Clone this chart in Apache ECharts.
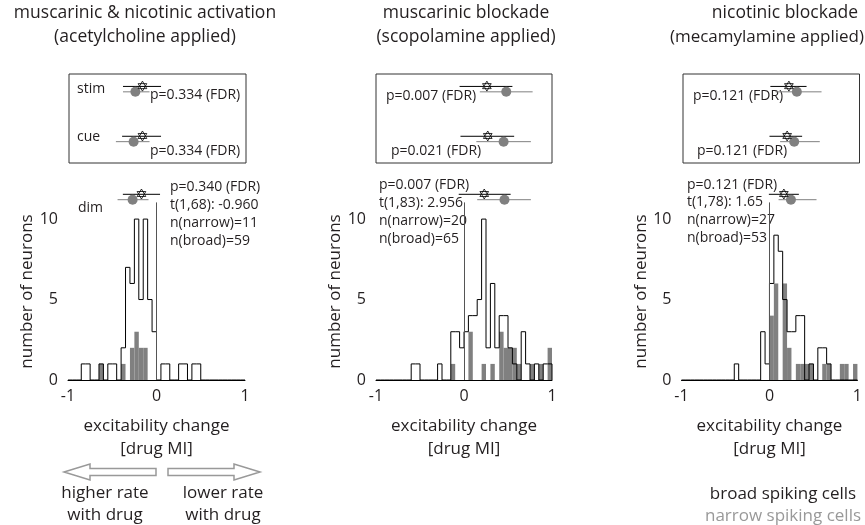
<!DOCTYPE html>
<html>
<head>
<meta charset="utf-8">
<script src="https://cdn.jsdelivr.net/npm/echarts@6/dist/echarts.min.js"></script>
<style>
html, body { margin: 0; padding: 0; background: #fff; }
#chart { width: 865px; height: 525px; }
</style>
</head>
<body>
<div id="chart"></div>
<script>
// bins: 40 bins of width 0.05 from -1 to 1
var binStart = -1, binWidth = 0.05;

// acetylcholine
var broadAch  = [0,0,0,1,1,0,0,1,0,1, 1,0,2,7,6,10,5,10,5,3, 0,1,1,0,0,1,1,0,1,1, 0,0,0,0,0,0,0,0,0,0];
var narrowAch = [0,0,0,0,0,0,0,1,0,0, 0,0,1,0,2,3,2,2,0,0, 0,0,0,0,0,0,0,0,0,0, 0,0,0,0,0,0,0,0,0,0];
// scopolamine
var broadScop  = [0,0,0,0,0,0,0,0,1,1, 0,0,0,0,1,0,0,3,3,2, 3,4,4,5,10,2,6,2,4,4, 2,1,0,3,1,0,1,0,1,1];
var narrowScop = [0,0,0,0,0,0,0,0,0,0, 0,0,0,0,0,0,0,1,0,0, 0,3,0,0,1,0,1,0,3,2, 2,2,1,0,0,1,0,1,0,2];
// mecamylamine
var broadMec  = [0,0,0,0,0,0,0,0,0,0, 0,0,1,0,0,0,0,0,3,1, 6,9,8,5,3,3,4,4,0,1, 0,2,2,1,0,0,0,0,0,0];
var narrowMec = [0,0,0,0,0,0,0,0,0,0, 0,0,0,0,0,0,0,0,0,0, 4,6,0,6,2,0,1,1,1,1, 0,0,1,1,0,0,1,1,0,1];

// [mean, lo, hi] for broad (star) and narrow (dot)
var achStim = { broad: [-0.17, -0.39, 0.04], narrow: [-0.25, -0.39, -0.09] };
var achCue  = { broad: [-0.17, -0.40, 0.04], narrow: [-0.27, -0.47, -0.09] };
var achDim  = { broad: [-0.17, -0.38, 0.04], narrow: [-0.27, -0.44, -0.09] };
var scopStim = { broad: [0.26, -0.05, 0.55], narrow: [0.48, 0.18, 0.78] };
var scopCue  = { broad: [0.27, -0.04, 0.57], narrow: [0.45, 0.14, 0.76] };
var scopDim  = { broad: [0.23, -0.06, 0.53], narrow: [0.46, 0.15, 0.76] };
var mecStim = { broad: [0.20, -0.01, 0.40], narrow: [0.29, 0.05, 0.57] };
var mecCue  = { broad: [0.18, -0.02, 0.35], narrow: [0.26, 0.10, 0.55] };
var mecDim  = { broad: [0.16, -0.01, 0.33], narrow: [0.24, 0.10, 0.53] };

var FONT = 'Open Sans';
var TXT = '#231f20';
var GRAY = '#808080';
var STAR = 'path://M0,-10L8.66,5L-8.66,5ZM0,10L8.66,-5L-8.66,-5Z';

var panels = [
    { left: 68, width: 177, boxLeft: 69, broad: broadAch, narrow: narrowAch, rows: [achStim, achCue], dim: achDim },
    { left: 376, width: 176, boxLeft: 376, broad: broadScop, narrow: narrowScop, rows: [scopStim, scopCue], dim: scopDim },
    { left: 681.5, width: 176.5, boxLeft: 683, broad: broadMec, narrow: narrowMec, rows: [mecStim, mecCue], dim: mecDim }
];
var rowPos = [0.17, 0.73];

var grid = [], xAxis = [], yAxis = [], series = [];

function errRender(params, api) {
    var lo = api.value(0), hi = api.value(1), y = api.value(2), k = api.value(3);
    var a = api.coord([lo, y]), b = api.coord([hi, y]);
    var off = k ? 2.7 : -2.7;
    return {
        type: 'line',
        shape: { x1: a[0], y1: a[1] + off, x2: b[0], y2: b[1] + off },
        style: { stroke: k ? GRAY : '#000', lineWidth: 1 }
    };
}

function addMarkers(gi, items) {
    var bars = [], stars = [], dots = [];
    items.forEach(function (it) {
        bars.push([it.broad[1], it.broad[2], it.y, 0]);
        bars.push([it.narrow[1], it.narrow[2], it.y, 1]);
        stars.push([it.broad[0], it.y]);
        dots.push([it.narrow[0], it.y]);
    });
    series.push({
        type: 'custom', xAxisIndex: gi, yAxisIndex: gi, renderItem: errRender,
        encode: { x: [0, 1], y: 2 }, data: bars, silent: true, z: 2
    });
    series.push({
        type: 'scatter', xAxisIndex: gi, yAxisIndex: gi, data: dots, symbol: 'circle',
        symbolSize: 10, symbolOffset: [0, 2.7], itemStyle: { color: GRAY, opacity: 1 }, silent: true, z: 3
    });
    series.push({
        type: 'scatter', xAxisIndex: gi, yAxisIndex: gi, data: stars, symbol: STAR, symbolKeepAspect: true,
        symbolSize: 10, symbolOffset: [0, -3], itemStyle: { color: '#fff', borderColor: '#000', borderWidth: 0.8, opacity: 1 },
        silent: true, z: 4
    });
}

panels.forEach(function (p, i) {
    var gBox = 3 * i, gDim = 3 * i + 1, gHist = 3 * i + 2;
    grid.push({ left: p.boxLeft, top: 74, width: p.width, height: 89, show: true, borderColor: '#333', borderWidth: 1, backgroundColor: 'transparent' });
    grid.push({ left: p.left, top: 187, width: p.width, height: 20 });
    grid.push({ left: p.left, top: 203, width: p.width, height: 177 });

    [gBox, gDim].forEach(function (g) {
        xAxis.push({ gridIndex: g, type: 'value', min: -1, max: 1, show: false });
        yAxis.push({ gridIndex: g, type: 'value', min: 0, max: 1, inverse: true, show: false });
    });
    xAxis.push({
        gridIndex: gHist, type: 'value', min: -1, max: 1, interval: 1,
        axisLine: { show: true, onZero: false, lineStyle: { color: '#000', width: 1 } },
        axisTick: { show: false }, splitLine: { show: false },
        axisLabel: { fontSize: 16, color: TXT, fontFamily: FONT, margin: 8 },
        name: 'excitability change\n[drug MI]', nameLocation: 'middle', nameGap: 35,
        nameTextStyle: { fontSize: 17, lineHeight: 23, color: TXT, fontFamily: FONT }
    });
    yAxis.push({
        gridIndex: gHist, type: 'value', min: 0, max: 11, interval: 5,
        axisLine: { show: true, lineStyle: { color: '#000', width: 1 } },
        axisTick: { show: false }, splitLine: { show: false },
        axisLabel: { fontSize: 16, color: TXT, fontFamily: FONT, margin: 10,
            formatter: function (v) { return v % 5 === 0 ? String(v) : ''; } },
        name: 'number of neurons', nameLocation: 'middle', nameGap: 31, nameRotate: 90,
        nameTextStyle: { fontSize: 17, color: TXT, fontFamily: FONT }
    });

    addMarkers(gBox, [
        { broad: p.rows[0].broad, narrow: p.rows[0].narrow, y: rowPos[0] },
        { broad: p.rows[1].broad, narrow: p.rows[1].narrow, y: rowPos[1] }
    ]);
    addMarkers(gDim, [{ broad: p.dim.broad, narrow: p.dim.narrow, y: 0.5 }]);

    // narrow spiking cells: filled gray bars
    var rects = [];
    p.narrow.forEach(function (c, k) {
        if (c > 0) rects.push([binStart + k * binWidth, binStart + (k + 1) * binWidth, c]);
    });
    series.push({
        type: 'custom', xAxisIndex: gHist, yAxisIndex: gHist, data: rects, silent: true, z: 2,
        encode: { x: [0, 1], y: 2 },
        renderItem: function (params, api) {
            var a = api.coord([api.value(0), api.value(2)]);
            var b = api.coord([api.value(1), 0]);
            return { type: 'rect', shape: { x: a[0], y: a[1], width: b[0] - a[0], height: b[1] - a[1] },
                style: { fill: GRAY } };
        }
    });

    // broad spiking cells: black stairs outline
    var pts = p.broad.map(function (c, k) { return [binStart + k * binWidth, c]; });
    pts.push([1, p.broad[p.broad.length - 1]]);
    pts.push([1, 0]);
    series.push({
        type: 'line', xAxisIndex: gHist, yAxisIndex: gHist, data: pts, step: 'end',
        showSymbol: false, symbol: 'none', clip: false, silent: true, z: 3,
        lineStyle: { color: '#000', width: 1 },
        markLine: {
            silent: true, symbol: ['none', 'none'], label: { show: false },
            lineStyle: { color: '#555', width: 1, type: 'solid' },
            data: [{ xAxis: 0 }]
        }
    });
});

function txt(x, y, s, opt) {
    opt = opt || {};
    return {
        type: 'text', x: x, y: y, silent: true,
        style: { text: s, fill: opt.color || TXT, fontSize: opt.size || 14, fontFamily: FONT,
            align: opt.align || 'left', verticalAlign: 'middle' }
    };
}

var graphics = [
    txt(145, 13, 'muscarinic & nicotinic activation', { size: 17.5, align: 'center' }),
    txt(145, 37, '(acetylcholine applied)', { size: 17.5, align: 'center' }),
    txt(466, 13, 'muscarinic blockade', { size: 17.5, align: 'center' }),
    txt(466, 37, '(scopolamine applied)', { size: 17.5, align: 'center' }),
    txt(785, 13, 'nicotinic blockade', { size: 17.5, align: 'center' }),
    txt(864, 37, '(mecamylamine applied)', { size: 17, align: 'right' }),

    txt(77, 89, 'stim'), txt(77, 137, 'cue'), txt(78, 208, 'dim'),
    txt(150, 95, 'p=0.334 (FDR)'), txt(150, 151, 'p=0.334 (FDR)'),
    txt(170, 187, 'p=0.340 (FDR)'), txt(170, 205, 't(1,68): -0.960'),
    txt(170, 223, 'n(narrow)=11'), txt(170, 241, 'n(broad)=59'),

    txt(386, 96, 'p=0.007 (FDR)'), txt(391, 151, 'p=0.021 (FDR)'),
    txt(379, 185, 'p=0.007 (FDR)'), txt(379, 203, 't(1,83): 2.956'),
    txt(379, 221, 'n(narrow)=20'), txt(379, 239, 'n(broad)=65'),

    txt(693, 96, 'p=0.121 (FDR)'), txt(697, 151, 'p=0.121 (FDR)'),
    txt(687, 185, 'p=0.121 (FDR)'), txt(687, 202, 't(1,78): 1.65'),
    txt(687, 220, 'n(narrow)=27'), txt(687, 238, 'n(broad)=53'),

    txt(105, 493, 'higher rate', { size: 17, align: 'center' }),
    txt(105, 515, 'with drug', { size: 17, align: 'center' }),
    txt(223, 493, 'lower rate', { size: 17, align: 'center' }),
    txt(223, 515, 'with drug', { size: 17, align: 'center' }),

    txt(783, 494, 'broad spiking cells', { size: 17, align: 'center' }),
    txt(783, 516, 'narrow spiking cells', { size: 17, align: 'center', color: '#999' }),

    {
        type: 'polygon', silent: true,
        shape: { points: [[64, 472], [90, 464], [90, 468.5], [156, 468.5], [156, 475.5], [90, 475.5], [90, 480]] },
        style: { fill: 'none', stroke: '#999', lineWidth: 1.5 }
    },
    {
        type: 'polygon', silent: true,
        shape: { points: [[260, 472], [234, 464], [234, 468.5], [168, 468.5], [168, 475.5], [234, 475.5], [234, 480]] },
        style: { fill: 'none', stroke: '#999', lineWidth: 1.5 }
    }
];

var myChart = echarts.init(document.getElementById('chart'));
myChart.setOption({
    animation: false,
    backgroundColor: '#fff',
    grid: grid,
    xAxis: xAxis,
    yAxis: yAxis,
    series: series,
    graphic: graphics
});
</script>
</body>
</html>
